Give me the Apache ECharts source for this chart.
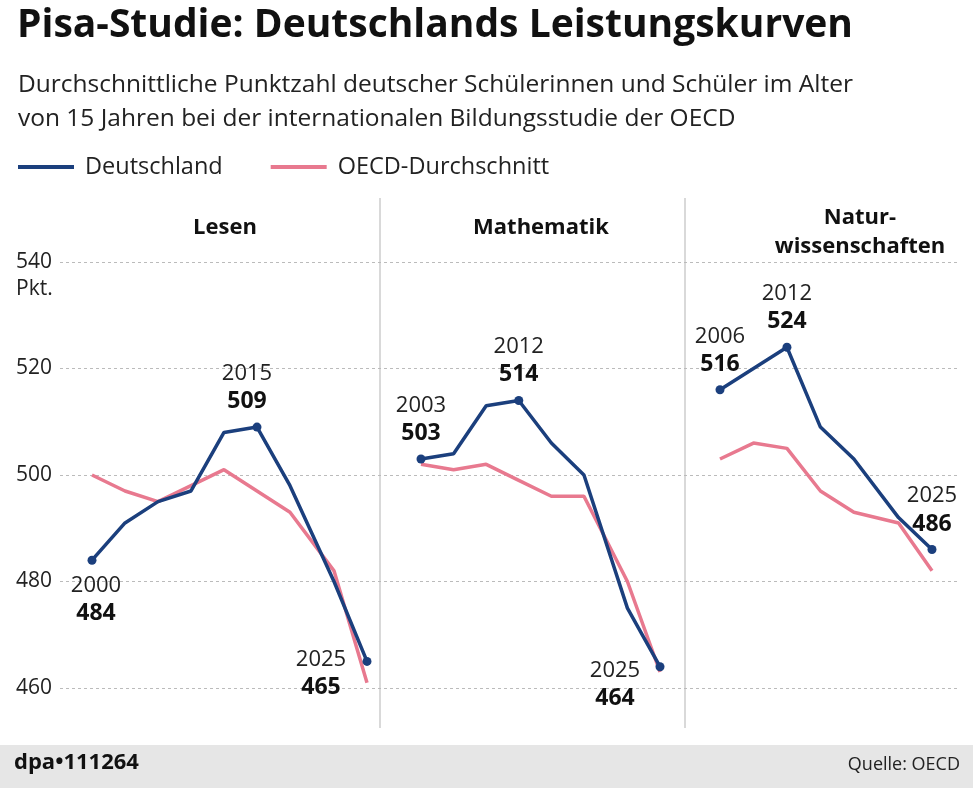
<!DOCTYPE html>
<html><head><meta charset="utf-8">
<script src="https://cdn.jsdelivr.net/npm/echarts@6/dist/echarts.min.js"></script>
<style>body{margin:0}#c{width:973px;height:788px}</style></head>
<body><div id="c"></div>
<script>
const yearsLesen=[2000,2003,2006,2009,2012,2015,2018,2022,2025];
const deLesen=[484,491,495,497,508,509,498,480,465];
const oecdLesen=[500,497,495,498,501,497,493,482,461];
const yearsMathe=[2003,2006,2009,2012,2015,2018,2022,2025];
const deMathe=[503,504,513,514,506,500,475,464];
const oecdMathe=[502,501,502,499,496,496,480,463];
const yearsNatur=[2006,2009,2012,2015,2018,2022,2025];
const deNatur=[516,520,524,509,503,492,486];
const oecdNatur=[503,506,505,497,493,491,482];
const yTicks=[460,480,500,520,540];
const BLUE='#1b3f7d',PINK='#e8798f';
const F='"Open Sans", "Noto Sans", sans-serif';
const rich={y:{fontSize:22,color:'#222',fontFamily:F,lineHeight:28},v:{fontSize:23,fontWeight:'bold',color:'#111',fontFamily:F,lineHeight:28}};
function lab(pos,off){return {show:true,position:pos,offset:off||[0,0],formatter:p=>'{y|'+p.value[0]+'}\n{v|'+p.value[1]+'}',rich:rich,align:'center'};}
function deData(years,vals,labels){
  return years.map((y,i)=>{const o={value:[y,vals[i]]};if(labels[i]){o.symbol='circle';o.symbolSize=9;o.label=labels[i];}return o;});
}
function zip(a,b){return a.map((x,i)=>[x,b[i]]);}
const grids=[{left:92,width:275,top:262,height:426},{left:421,width:239,top:262,height:426},{left:720,width:212,top:262,height:426},{left:60,right:13,top:262,height:426}];
const yrs=[yearsLesen,yearsMathe,yearsNatur];
const option={
  animation:false,
  title:[
    {text:'Pisa-Studie: Deutschlands Leistungskurven',left:12,top:1,textStyle:{fontSize:39,fontWeight:'bold',color:'#111',fontFamily:F}},
    {text:'Durchschnittliche Punktzahl deutscher Schülerinnen und Schüler im Alter\nvon 15 Jahren bei der internationalen Bildungsstudie der OECD',left:13,top:63,textStyle:{fontSize:24.5,fontWeight:'normal',color:'#222',fontFamily:F,lineHeight:34}},
    {text:'Lesen',left:220,top:212,textAlign:'center',textStyle:{fontSize:22,fontWeight:'bold',color:'#111',fontFamily:F}},
    {text:'Mathematik',left:536,top:212,textAlign:'center',textStyle:{fontSize:22,fontWeight:'bold',color:'#111',fontFamily:F}},
    {text:'Natur-\nwissenschaften',left:855,top:198,textAlign:'center',textStyle:{fontSize:22,fontWeight:'bold',color:'#111',fontFamily:F,lineHeight:29}}
  ],
  legend:{left:13,top:150,itemWidth:56,itemHeight:4,icon:'rect',itemGap:48,textStyle:{fontSize:23.5,color:'#222',fontFamily:F,padding:[0,0,0,6]},data:['Deutschland','OECD-Durchschnitt']},
  grid:grids,
  xAxis:[0,1,2].map(i=>({type:'value',gridIndex:i,min:yrs[i][0],max:2025,show:false})).concat([{type:'value',gridIndex:3,show:false}]),
  yAxis:[0,1,2].map(i=>({type:'value',gridIndex:i,min:460,max:540,show:false})).concat([{type:'value',gridIndex:3,min:460,max:540,interval:20,
    axisLine:{show:false},axisTick:{show:false},splitLine:{lineStyle:{type:[3,3],color:'#bbb',width:1}},
    axisLabel:{margin:44,align:'left',fontSize:21,color:'#222',fontFamily:F,verticalAlign:'middle',formatter:v=>yTicks.includes(v)?String(v):''}}]),
  graphic:[
    {type:'line',shape:{x1:380,y1:198,x2:380,y2:728},style:{stroke:'#ccc',lineWidth:1.5}},
    {type:'line',shape:{x1:685,y1:198,x2:685,y2:728},style:{stroke:'#ccc',lineWidth:1.5}},
    {type:'text',left:16,top:279,style:{text:'Pkt.',fontSize:21,fill:'#222',fontFamily:F}},
    {type:'rect',shape:{x:0,y:745,width:973,height:43},style:{fill:'#e6e6e6'}},
    {type:'text',left:14,top:752,style:{text:'dpa•111264',fontSize:22,fontWeight:'bold',fill:'#111',fontFamily:F}},
    {type:'text',right:13,top:756,style:{text:'Quelle: OECD',fontSize:18,fill:'#222',fontFamily:F}}
  ],
  series:[
    {name:'OECD-Durchschnitt',type:'line',xAxisIndex:0,yAxisIndex:0,symbol:'none',lineStyle:{color:PINK,width:3.5},itemStyle:{color:PINK},data:zip(yearsLesen,oecdLesen)},
    {name:'OECD-Durchschnitt',type:'line',xAxisIndex:1,yAxisIndex:1,symbol:'none',lineStyle:{color:PINK,width:3.5},itemStyle:{color:PINK},data:zip(yearsMathe,oecdMathe)},
    {name:'OECD-Durchschnitt',type:'line',xAxisIndex:2,yAxisIndex:2,symbol:'none',lineStyle:{color:PINK,width:3.5},itemStyle:{color:PINK},data:zip(yearsNatur,oecdNatur)},
    {name:'Deutschland',type:'line',xAxisIndex:0,yAxisIndex:0,symbol:'none',lineStyle:{color:BLUE,width:3.5},itemStyle:{color:BLUE},z:3,
      data:deData(yearsLesen,deLesen,{0:lab('bottom',[4,2]),5:lab('top',[-10,-2]),8:lab('inside',[-46,12])})},
    {name:'Deutschland',type:'line',xAxisIndex:1,yAxisIndex:1,symbol:'none',lineStyle:{color:BLUE,width:3.5},itemStyle:{color:BLUE},z:3,
      data:deData(yearsMathe,deMathe,{0:lab('top',[0,-2]),3:lab('top',[0,-2]),7:lab('inside',[-45,18])})},
    {name:'Deutschland',type:'line',xAxisIndex:2,yAxisIndex:2,symbol:'none',lineStyle:{color:BLUE,width:3.5},itemStyle:{color:BLUE},z:3,
      data:deData(yearsNatur,deNatur,{0:lab('top',[0,-2]),2:lab('top',[0,-2]),6:lab('top',[0,-2])})}
  ]
};
echarts.init(document.getElementById('c')).setOption(option);
</script></body></html>
